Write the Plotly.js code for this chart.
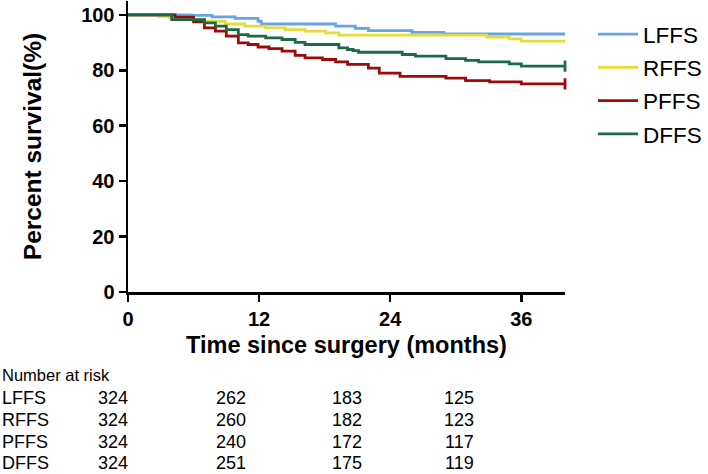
<!DOCTYPE html>
<html>
<head>
<meta charset="utf-8">
<script src="https://cdn.plot.ly/plotly-3.0.1.min.js"></script>
<style>html,body{margin:0;padding:0;background:#fff;}#chart{width:708px;height:474px;}</style>
</head>
<body>
<div id="chart"></div>
<script>
// ---- data (months, percent survival) ----
var lffsT = [0, 5.8, 7.7, 9.8, 11.9, 12.2, 19.0, 20.8, 22.0, 26.0, 28.9, 40];
var lffsS = [100, 99.8, 99.3, 98.7, 97.7, 96.7, 95.9, 95.1, 94.3, 93.7, 93.1, 93.1];

var rffsT = [0, 2.8, 3.8, 5.8, 7.0, 8.9, 10.7, 12.6, 14.4, 16.2, 18.1, 19.3, 32.8, 34.9, 36.0, 40];
var rffsS = [100, 99.5, 98.9, 98.3, 97.7, 96.7, 95.9, 95.3, 94.7, 94.1, 93.5, 92.7, 92.0, 91.3, 90.5, 90.5];

var pffsT = [0, 4.3, 6.0, 7.0, 8.0, 9.0, 10.1, 11.0, 11.9, 12.9, 14.1, 15.3, 16.2, 17.8, 19.0, 20.1, 22.0, 23.0, 24.9, 29.1, 30.9, 33.1, 36.0, 40];
var pffsS = [100, 99.2, 97.5, 95.3, 94.1, 92.3, 89.9, 89.3, 88.4, 87.8, 86.9, 85.4, 84.5, 83.9, 83.0, 82.1, 80.8, 79.0, 77.8, 77.2, 76.3, 75.8, 75.1, 75.1];

var dffsT = [0, 4.0, 7.0, 8.0, 9.0, 10.1, 11.0, 12.6, 14.1, 15.3, 16.2, 19.3, 20.1, 20.6, 21.1, 25.1, 26.3, 29.1, 30.9, 32.1, 34.9, 36.0, 40];
var dffsS = [100, 98.3, 97.1, 95.9, 94.7, 92.9, 92.3, 91.7, 91.1, 90.1, 89.3, 88.1, 87.5, 87.1, 86.5, 85.7, 85.1, 84.2, 83.6, 83.0, 82.3, 81.5, 81.5];

var seriesNames = ["LFFS", "RFFS", "PFFS", "DFFS"];
var seriesColors = ["#67A3E8", "#E4DC3C", "#9C0A0A", "#1B6B47"];
var censorEnd = [false, false, true, true];

// ---- number at risk table ----
var riskHeader = "Number at risk";
var riskLabels = ["LFFS", "RFFS", "PFFS", "DFFS"];
var riskLFFS = [324, 262, 183, 125];
var riskRFFS = [324, 260, 182, 123];
var riskPFFS = [324, 240, 172, 117];
var riskDFFS = [324, 251, 175, 119];

// ---- layout geometry ----
var W = 708, H = 474;
var M = {l: 128, r: 143, t: 1, b: 182};
var plotW = W - M.l - M.r, plotH = H - M.t - M.b;
function px2x(px){ return (px - M.l) / plotW; }
function px2y(py){ return (H - M.b - py) / plotH; }

var font = "'Liberation Sans', Arial, Helvetica, sans-serif";

var xs = [lffsT, rffsT, pffsT, dffsT];
var ys = [lffsS, rffsS, pffsS, dffsS];
var traces = [];
for (var i = 0; i < 4; i++) {
  traces.push({
    x: xs[i], y: ys[i], type: "scatter", mode: "lines",
    name: seriesNames[i], legendgroup: "g" + i,
    line: {color: seriesColors[i], width: 2.8, shape: "hv"},
    hoverinfo: "skip"
  });
  if (censorEnd[i]) {
    var n = xs[i].length - 1;
    traces.push({
      x: [xs[i][n]], y: [ys[i][n]], type: "scatter", mode: "markers",
      showlegend: false, legendgroup: "g" + i,
      marker: {symbol: "line-ns", size: 8, line: {color: seriesColors[i], width: 2.8}},
      hoverinfo: "skip", cliponaxis: false
    });
  }
}

// table annotations
var annotations = [];
var colPx = [113, 231, 347, 459];
var rowPy = [398, 420, 442, 463];
var riskRows = [riskLFFS, riskRFFS, riskPFFS, riskDFFS];
annotations.push({
  text: riskHeader, xref: "paper", yref: "paper", x: px2x(0), y: px2y(375),
  xanchor: "left", yanchor: "middle", showarrow: false,
  font: {family: font, size: 16.5, color: "#000"}
});
for (var r = 0; r < 4; r++) {
  annotations.push({
    text: riskLabels[r], xref: "paper", yref: "paper", x: px2x(0), y: px2y(rowPy[r]),
    xanchor: "left", yanchor: "middle", showarrow: false,
    font: {family: font, size: 18, color: "#000"}
  });
  for (var c = 0; c < 4; c++) {
    annotations.push({
      text: String(riskRows[r][c]), xref: "paper", yref: "paper",
      x: px2x(colPx[c]), y: px2y(rowPy[r]),
      xanchor: "center", yanchor: "middle", showarrow: false,
      font: {family: font, size: 18, color: "#000"}
    });
  }
}

var layout = {
  width: W, height: H,
  margin: M,
  paper_bgcolor: "#fff", plot_bgcolor: "#fff",
  showlegend: true,
  legend: {
    x: px2x(593), y: px2y(13), xanchor: "left", yanchor: "top",
    font: {family: font, size: 22.5, color: "#000"},
    itemwidth: 40, tracegroupgap: 1, bgcolor: "rgba(0,0,0,0)", borderwidth: 0
  },
  xaxis: {
    range: [0, 40], tickvals: [0, 12, 24, 36], ticktext: ["0", "12", "24", "36"],
    showline: true, linecolor: "#000", linewidth: 2.5,
    ticks: "outside", ticklen: 7, tickwidth: 2.5, tickcolor: "#000",
    showgrid: false, zeroline: false,
    tickfont: {family: font, size: 20, color: "#000", weight: "bold"},
    title: {text: "Time since surgery (months)", standoff: 8,
            font: {family: font, size: 23.5, color: "#000", weight: "bold"}}
  },
  yaxis: {
    range: [0, 105], tickvals: [0, 20, 40, 60, 80, 100],
    showline: true, linecolor: "#000", linewidth: 2.5,
    ticks: "outside", ticklen: 7, tickwidth: 2.5, tickcolor: "#000",
    showgrid: false, zeroline: false,
    tickfont: {family: font, size: 20, color: "#000", weight: "bold"},
    title: {text: "Percent survival(%)", standoff: 33,
            font: {family: font, size: 24.5, color: "#000", weight: "bold"}}
  },
  annotations: annotations
};

Plotly.newPlot("chart", traces, layout, {displayModeBar: false, staticPlot: true});
</script>
</body>
</html>
